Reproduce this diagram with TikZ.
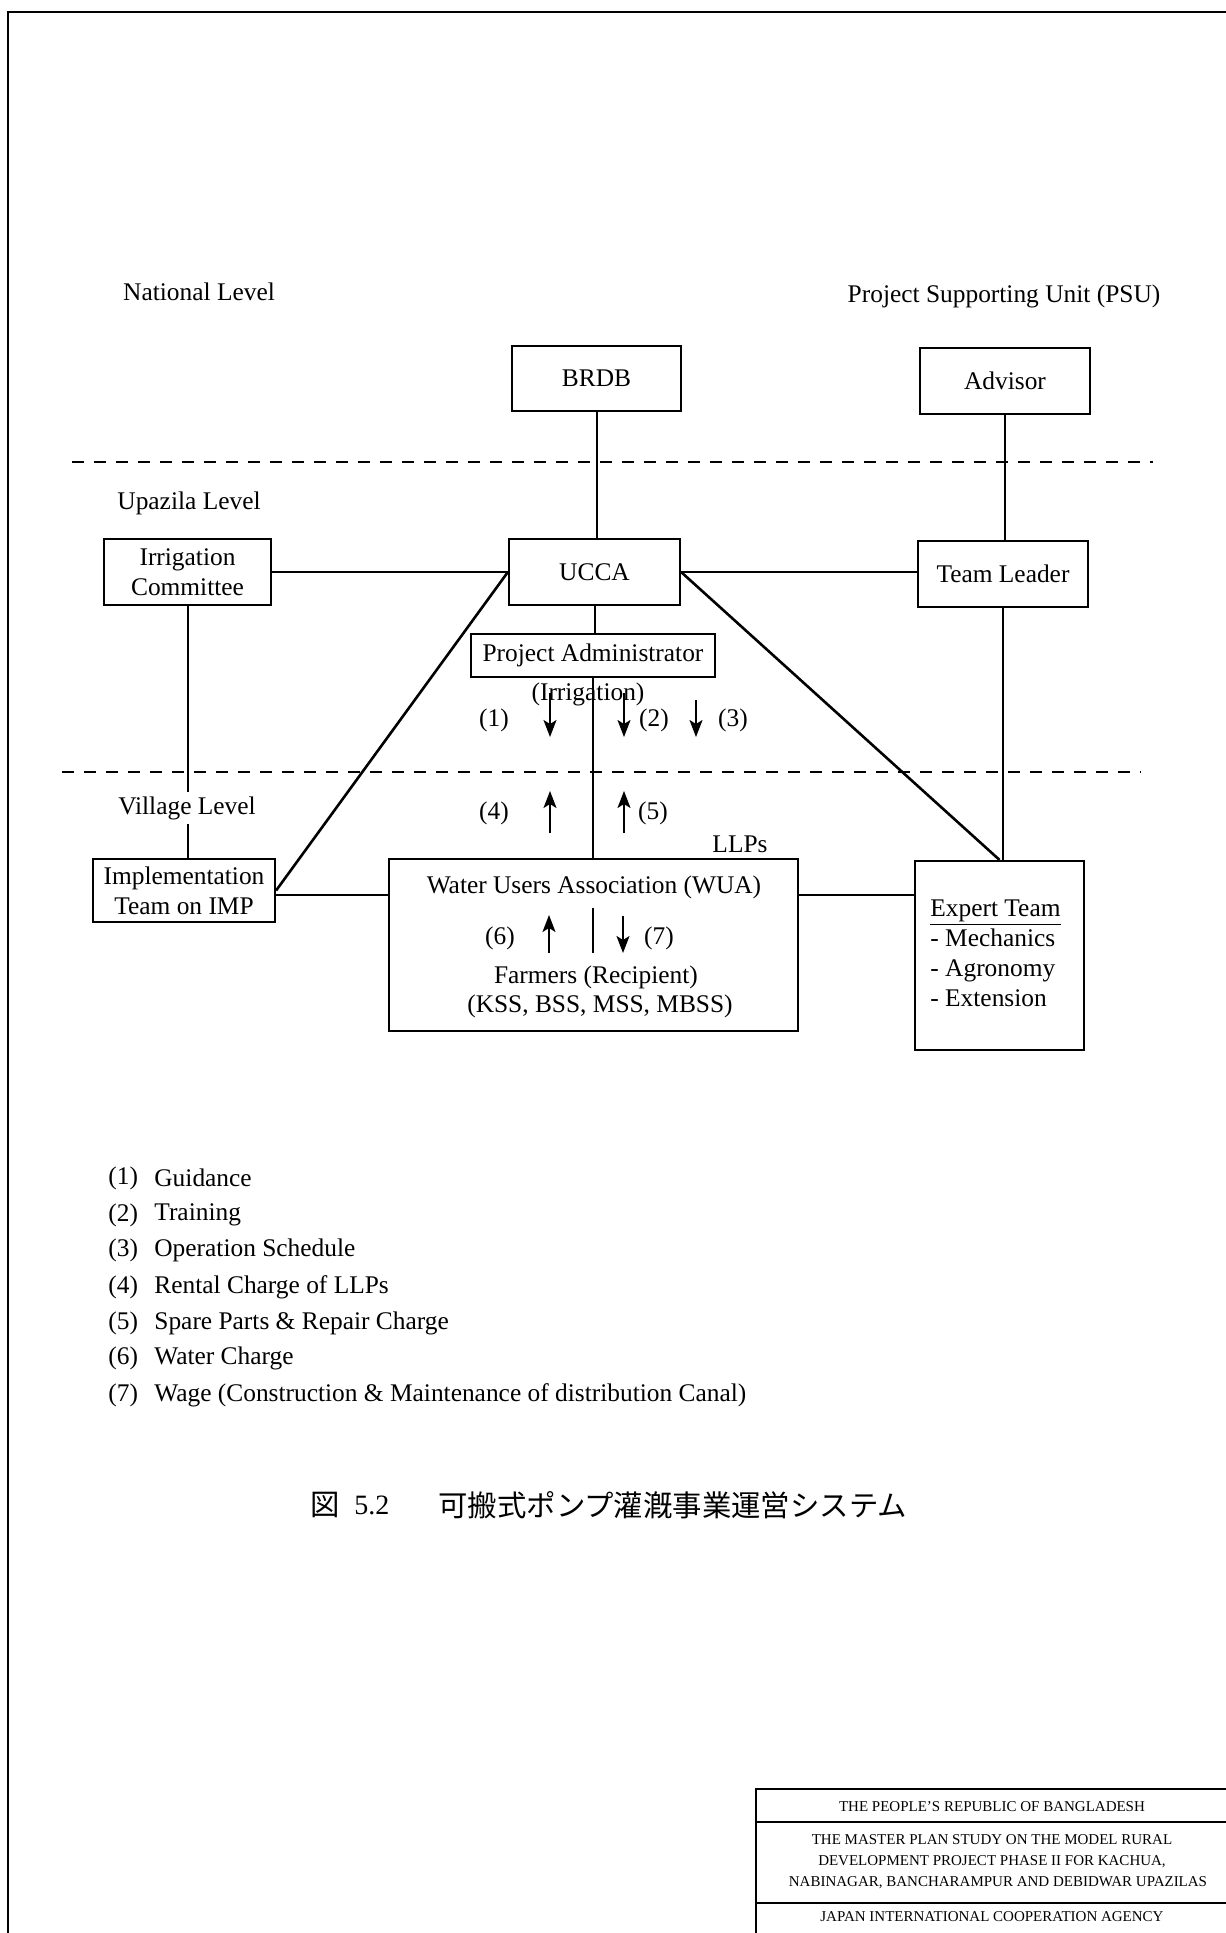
\documentclass[tikz,border=0pt]{standalone}
\usepackage{fontspec}
\setmainfont{Liberation Serif}
\newfontfamily\cjkfont{Noto Sans CJK JP}
\usetikzlibrary{arrows.meta,calc}
\begin{document}
\begin{tikzpicture}[x=0.5pt,y=-0.5pt,
  every node/.style={font=\fontsize{12.7}{15}\selectfont, inner sep=0pt},
  box/.style={draw, line width=1.1pt, align=center},
  conn/.style={line width=1pt},
  diag/.style={line width=1.3pt},
  dashline/.style={line width=1pt, dash pattern=on 6pt off 5pt},
  arr/.style={line width=0.9pt, -{Stealth[length=8.5pt,width=6.5pt,inset=2pt]}},
  legnum/.style={anchor=west},
  legtxt/.style={anchor=west},
  tbtxt/.style={font=\fontsize{7.5}{9}\selectfont}
]
\useasboundingbox (0,0) rectangle (1226,1933);
% page frame
\draw[line width=1.2pt] (8,1933) -- (8,12) -- (1226,12);

% level labels
\node (nat) at (199,292) {National Level};
\node (psu) at (1004,296) {Project Supporting Unit (PSU)};
\node (upa) at (189,503) {Upazila Level};

% boxes
\node[box,minimum width=84.5pt,minimum height=32.5pt] (brdb) at (596.5,378.5) {BRDB};
\node[box,minimum width=85pt,minimum height=33pt] (adv) at (1005,381) {Advisor};
\node[box,minimum width=83.5pt,minimum height=33pt] (ic) at (187.5,572) {Irrigation\\Committee};
\node[box,minimum width=85.5pt,minimum height=33pt] (ucca) at (594.5,572) {UCCA};
\node[box,minimum width=85pt,minimum height=33pt] (tl) at (1003,574) {Team Leader};
\node[box,minimum width=122pt,minimum height=21.5pt] (pa) at (593,655.5) {Project Administrator};
\node[box,minimum width=91pt,minimum height=31.5pt] (imp) at (184,890.5) {Implementation\\Team on IMP};
\node[box,minimum width=204.5pt,minimum height=86pt] (wua) at (593.5,945) {};
\node[box,minimum width=84.5pt,minimum height=94.5pt] (exp) at (999.5,955.5) {};

% texts inside WUA and Expert boxes
\node (wuat) at (594,887) {Water Users Association (WUA)};
\node (farm) at (596,977) {Farmers (Recipient)};
\node (kss) at (600,1006) {(KSS, BSS, MSS, MBSS)};
\node[anchor=west,align=left] (expt) at (930,953) {\underline{Expert Team}\\- Mechanics\\- Agronomy\\- Extension};

\node (irr) at (588,694) {(Irrigation)};
\node (llp) at (740,844) {LLPs};

% dashed level separators
\coordinate (d1a) at (72,462); \coordinate (d1b) at (1153,462);
\coordinate (d2a) at (62,772); \coordinate (d2b) at (1141,772);
\draw[dashline] (d1a) -- (d1b);
\draw[dashline] (d2a) -- (d2b);

% connectors
\draw[conn] (brdb.south) -- (brdb.south |- ucca.north);
\draw[conn] (adv.south) -- (adv.south |- tl.north);
\draw[conn] (ic.east) -- (ucca.west);
\draw[conn] (ucca.east) -- (ucca.east -| tl.west);
\draw[conn] (ic.south) -- (ic.south |- imp.north);
\draw[conn] (ucca.south) -- (ucca.south |- pa.north);
\draw[conn] (pa.south) -- (pa.south |- wua.north);
\draw[conn] (tl.south) -- (tl.south |- exp.north);
\coordinate (impr) at ([yshift=-2pt]imp.east);
\draw[conn] (impr) -- (impr -| wua.west);
\draw[conn] (wua.east |- impr) -- (exp.west |- impr);
\draw[diag] (ucca.west) -- (imp.east);
\draw[diag] (ucca.east) -- (exp.north);

% village label on top of the line
\node[fill=white, inner ysep=2pt, inner xsep=1pt] (vil) at (187,808) {Village Level};

% flow arrows
\coordinate (a1s) at (550,693); \coordinate (a1e) at (550,737);
\coordinate (a2s) at (624,693); \coordinate (a2e) at (624,737);
\coordinate (a3s) at (696,700); \coordinate (a3e) at (696,737);
\coordinate (a4s) at (550,833); \coordinate (a4e) at (550,791);
\coordinate (a5s) at (624,833); \coordinate (a5e) at (624,791);
\coordinate (a6s) at (549,953); \coordinate (a6e) at (549,915);
\coordinate (a7s) at (623,916); \coordinate (a7e) at (623,953);
\coordinate (bars) at (593,908); \coordinate (bare) at (593,953);
\draw[arr] (a1s) -- (a1e);
\draw[arr] (a2s) -- (a2e);
\draw[arr] (a3s) -- (a3e);
\draw[arr] (a4s) -- (a4e);
\draw[arr] (a5s) -- (a5e);
\draw[arr] (a6s) -- (a6e);
\draw[arr] (a7s) -- (a7e);
\draw[line width=1.2pt] (bars) -- (bare);

\node (n1) at (494,720) {(1)};
\node (n2) at (654,720) {(2)};
\node (n3) at (733,720) {(3)};
\node (n4) at (494,813) {(4)};
\node (n5) at (653,813) {(5)};
\node (n6) at (500,938) {(6)};
\node (n7) at (659,938) {(7)};

% legend
\node[legnum] (l1) at (108,1178) {(1)}; \node[legtxt] (t1) at (154,1178) {Guidance};
\node[legnum] (l2) at (108,1215) {(2)}; \node[legtxt] (t2) at (154,1215) {Training};
\node[legnum] (l3) at (108,1250) {(3)}; \node[legtxt] (t3) at (154,1250) {Operation Schedule};
\node[legnum] (l4) at (108,1287) {(4)}; \node[legtxt] (t4) at (154,1287) {Rental Charge of LLPs};
\node[legnum] (l5) at (108,1323) {(5)}; \node[legtxt] (t5) at (154,1323) {Spare Parts \& Repair Charge};
\node[legnum] (l6) at (108,1358) {(6)}; \node[legtxt] (t6) at (154,1358) {Water Charge};
\node[legnum] (l7) at (108,1395) {(7)}; \node[legtxt] (t7) at (154,1395) {Wage (Construction \& Maintenance of distribution Canal)};

% caption
\node[anchor=west,font=\cjkfont\fontsize{14.7}{16}\selectfont] (zu) at (310,1505) {図};
\node[anchor=west,font=\fontsize{14}{16}\selectfont] (num) at (354,1505) {5.2};
\node[anchor=west,font=\cjkfont\fontsize{14.7}{16}\selectfont] (cap) at (438,1505) {可搬式ポンプ灌漑事業運営システム};

% title block
\coordinate (tbA) at (756,1933); \coordinate (tbB) at (756,1789); \coordinate (tbC) at (1226,1789);
\coordinate (tbD) at (756,1822); \coordinate (tbE) at (1226,1822);
\coordinate (tbF) at (756,1903); \coordinate (tbG) at (1226,1903);
\draw[line width=1pt] (tbA) -- (tbB) -- (tbC);
\draw[line width=1pt] (tbD) -- (tbE);
\draw[line width=1pt] (tbF) -- (tbG);
\node[tbtxt] (tb1) at (992,1807) {THE PEOPLE'S REPUBLIC OF BANGLADESH};
\node[tbtxt] (tb2) at (992,1840) {THE MASTER PLAN STUDY ON THE MODEL RURAL};
\node[tbtxt] (tb3) at (992,1862) {DEVELOPMENT PROJECT PHASE II FOR KACHUA,};
\node[tbtxt] (tb4) at (998,1883) {NABINAGAR, BANCHARAMPUR AND DEBIDWAR UPAZILAS};
\node[tbtxt] (tb5) at (992,1917) {JAPAN INTERNATIONAL COOPERATION AGENCY};
\end{tikzpicture}
\end{document}
